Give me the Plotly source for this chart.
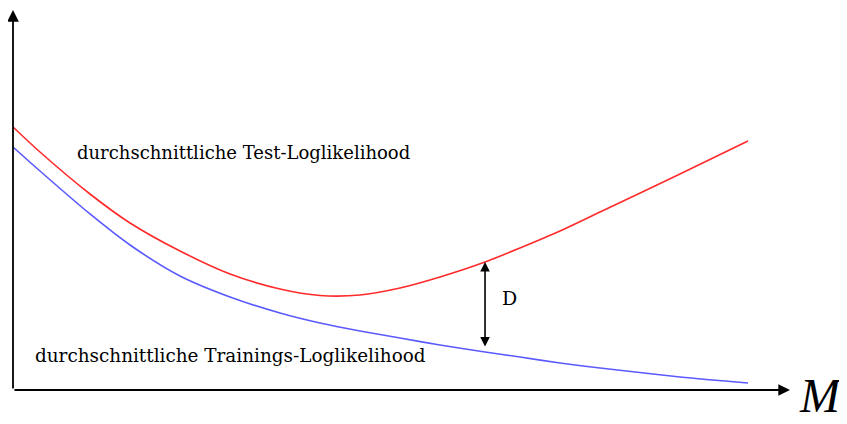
import plotly.graph_objects as go

# Model complexity M (arbitrary units)
M = [0, 3.47, 9.91, 15.06, 21.49, 27.93, 34.36, 39.51, 44.66, 49.81, 54.95, 60.75, 65.25, 70.40, 75.55, 85.84, 94.59]
# average test log-likelihood curve (red)
test_ll = [69.21, 62.63, 51.58, 43.95, 36.58, 30.53, 26.58, 24.87, 25.0, 26.84, 29.74, 33.68, 37.37, 41.84, 46.84, 56.84, 65.53]
# average training log-likelihood curve (blue)
train_ll = [63.95, 57.63, 46.32, 38.16, 30.0, 24.47, 20.26, 17.63, 15.53, 13.68, 11.84, 10.0, 8.68, 7.11, 5.79, 3.42, 1.84]

label_test = "durchschnittliche Test-Loglikelihood"
label_train = "durchschnittliche Trainings-Loglikelihood"
gap_index = 11  # position where the gap D is shown

fig = go.Figure()
fig.add_trace(go.Scatter(x=M, y=test_ll, mode="lines",
                         line=dict(color="#ff2a2a", width=1.6, shape="spline", smoothing=0.8),
                         hoverinfo="skip", showlegend=False))
fig.add_trace(go.Scatter(x=M, y=train_ll, mode="lines",
                         line=dict(color="#5a5aff", width=1.6, shape="spline", smoothing=0.8),
                         hoverinfo="skip", showlegend=False))

serif = "DejaVu Serif"
annotations = [
    # y axis arrow
    dict(x=0, y=1, xref="paper", yref="paper", ax=0, ay=380, axref="pixel", ayref="pixel",
         showarrow=True, arrowhead=2, arrowsize=1.3, arrowwidth=1.8, arrowcolor="black", text=""),
    # x axis arrow
    dict(x=1, y=0, xref="paper", yref="paper", ax=-777, ay=0, axref="pixel", ayref="pixel",
         showarrow=True, arrowhead=2, arrowsize=1.3, arrowwidth=1.8, arrowcolor="black", text=""),
    # gap D double arrow
    dict(x=M[gap_index], y=test_ll[gap_index], ax=M[gap_index], ay=train_ll[gap_index],
         xref="x", yref="y", axref="x", ayref="y", showarrow=True, arrowhead=2,
         arrowside="end+start", startstandoff=4, arrowsize=1.2, arrowwidth=1.6,
         arrowcolor="black", text=""),
    dict(x=M[gap_index] + 3.2, y=(test_ll[gap_index] + train_ll[gap_index]) / 2 + 2.4,
         xref="x", yref="y", text="D", showarrow=False, xanchor="center", yanchor="middle",
         font=dict(family=serif, size=19, color="black")),
    dict(x=(75 - 13) / 777, y=(390 - 152) / 380, xref="paper", yref="paper", text=label_test,
         showarrow=False, xanchor="left", yanchor="middle",
         font=dict(family=serif, size=18, color="black")),
    dict(x=(33 - 13) / 777, y=(390 - 355) / 380, xref="paper", yref="paper", text=label_train,
         showarrow=False, xanchor="left", yanchor="middle",
         font=dict(family=serif, size=18.4, color="black")),
    dict(x=(821 - 13) / 777, y=(390 - 423) / 380, xref="paper", yref="paper", text="<i>M</i>",
         showarrow=False, xanchor="center", yanchor="bottom", borderpad=0,
         font=dict(family="Liberation Serif", size=48, color="black")),
]

fig.update_layout(
    width=839, height=416,
    margin=dict(l=5, r=57, t=2, b=34),
    paper_bgcolor="white", plot_bgcolor="white",
    xaxis=dict(range=[0, 100], visible=False, fixedrange=True),
    yaxis=dict(range=[0, 100], visible=False, fixedrange=True),
    annotations=annotations,
    showlegend=False,
)

fig.write_html("out.html", config={"displayModeBar": False})
